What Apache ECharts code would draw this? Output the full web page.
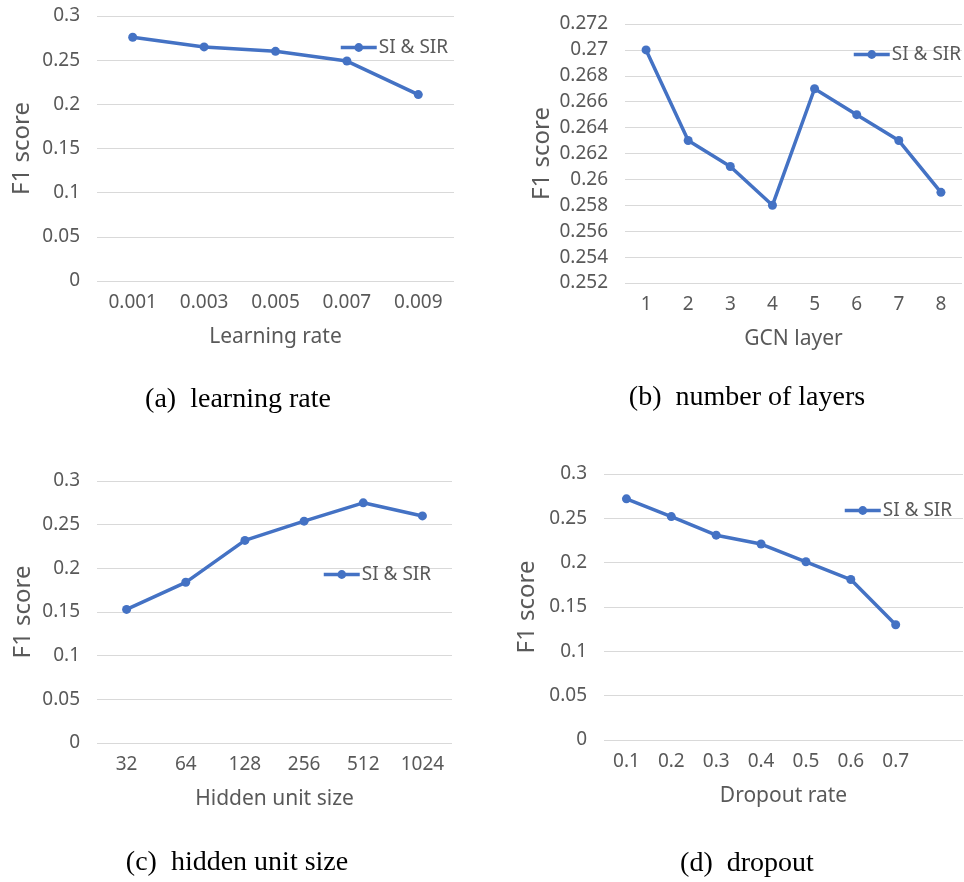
<!DOCTYPE html>
<html>
<head>
<meta charset="utf-8">
<script src="https://cdn.jsdelivr.net/npm/echarts@6/dist/echarts.min.js"></script>
<style>
  html, body { margin: 0; padding: 0; background: #fff; }
  #chart { width: 964px; height: 882px; }
</style>
</head>
<body>
<div id="chart"></div>
<script>
// data
const seriesName = 'SI & SIR';

const lrCats = ['0.001', '0.003', '0.005', '0.007', '0.009'];
const lrF1 = [0.276, 0.265, 0.260, 0.249, 0.211];

const layerCats = ['1', '2', '3', '4', '5', '6', '7', '8'];
const layerF1 = [0.270, 0.263, 0.261, 0.258, 0.267, 0.265, 0.263, 0.259];

const hiddenCats = ['32', '64', '128', '256', '512', '1024'];
const hiddenF1 = [0.153, 0.184, 0.232, 0.254, 0.275, 0.260];

const dropCats = ['0.1', '0.2', '0.3', '0.4', '0.5', '0.6', '0.7', ''];
const dropF1 = [0.272, 0.252, 0.231, 0.221, 0.201, 0.181, 0.130];

const captions = ['(a)\u2002learning rate', '(b)\u2002number of layers', '(c)\u2002hidden unit size', '(d)\u2002dropout'];

const BLUE = '#4472c4';
const GREY = '#595959';
const FONT = 'Noto Sans';

const panels = [
  { grid: { left: 97, top: 16, width: 357, height: 265 }, cats: lrCats, vals: lrF1, xName: 'Learning rate',
    y: { min: 0, max: 0.3, interval: 0.05 }, yGap: 63, legend: [339, 49], cap: [238, 400] },
  { grid: { left: 625, top: 24, width: 337, height: 259 }, cats: layerCats, vals: layerF1, xName: 'GCN layer',
    y: { min: 0.252, max: 0.272, interval: 0.002 }, yGap: 71, legend: [852, 56], cap: [747, 398] },
  { grid: { left: 97, top: 481, width: 355, height: 262 }, cats: hiddenCats, vals: hiddenF1, xName: 'Hidden unit size',
    y: { min: 0, max: 0.3, interval: 0.05 }, yGap: 62, legend: [322, 576], cap: [237, 863] },
  { grid: { left: 604, top: 474, width: 359, height: 266 }, cats: dropCats, vals: dropF1, xName: 'Dropout rate',
    y: { min: 0, max: 0.3, interval: 0.05 }, yGap: 65, legend: [843, 512], cap: [747, 864] }
];

const chart = echarts.init(document.getElementById('chart'));

const option = {
  animation: false,
  grid: panels.map(p => p.grid),
  xAxis: panels.map((p, i) => ({
    type: 'category',
    gridIndex: i,
    data: p.cats,
    name: p.xName,
    nameLocation: 'middle',
    nameGap: 46,
    nameTextStyle: { color: GREY, fontSize: 21, fontFamily: FONT },
    axisLine: { show: false },
    axisTick: { show: false },
    axisLabel: { color: GREY, fontSize: 19, fontFamily: FONT, margin: 12 }
  })),
  yAxis: panels.map((p, i) => ({
    type: 'value',
    gridIndex: i,
    min: p.y.min,
    max: p.y.max,
    interval: p.y.interval,
    name: 'F1 score',
    nameLocation: 'middle',
    nameGap: p.yGap,
    nameRotate: 90,
    nameTextStyle: { color: GREY, fontSize: 24, fontFamily: FONT },
    axisLine: { show: false },
    axisTick: { show: false },
    axisLabel: {
      color: GREY, fontSize: 19, fontFamily: FONT, margin: 17,
      formatter: v => String(+v.toFixed(3))
    },
    splitLine: { lineStyle: { color: '#d9d9d9', width: 1 } }
  })),
  legend: panels.map(p => ({
    left: p.legend[0],
    top: p.legend[1] - 11,
    padding: 0,
    itemWidth: 36,
    itemHeight: 11,
    data: [seriesName],
    selectedMode: false,
    lineStyle: { width: 3.5 },
    textStyle: { color: GREY, fontSize: 19, fontFamily: FONT, padding: [0, 0, 0, -3] }
  })),
  series: panels.map((p, i) => ({
    name: seriesName,
    type: 'line',
    xAxisIndex: i,
    yAxisIndex: i,
    data: p.vals,
    symbol: 'circle',
    symbolSize: 9,
    lineStyle: { color: BLUE, width: 3.5 },
    itemStyle: { color: BLUE }
  })),
  graphic: panels.map((p, i) => ({
    type: 'text',
    x: p.cap[0],
    y: p.cap[1],
    style: {
      text: captions[i],
      fill: '#000',
      font: '28px "Liberation Serif"',
      textAlign: 'center',
      textVerticalAlign: 'middle'
    }
  }))
};

chart.setOption(option);
</script>
</body>
</html>
